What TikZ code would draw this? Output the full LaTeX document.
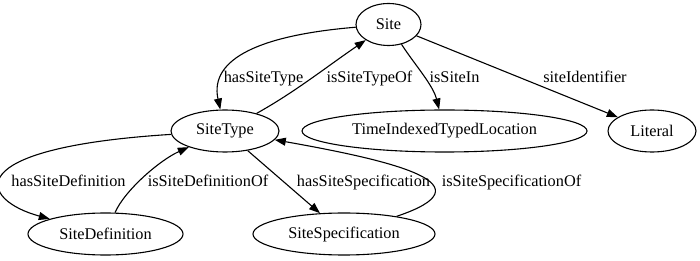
\documentclass[tikz,border=0pt]{standalone}
\usepackage{fontspec}
\setmainfont{Liberation Serif}
\usetikzlibrary{positioning, arrows.meta, shapes.geometric}

\begin{document}
\begin{tikzpicture}[
		x=1pt, y=-1pt,
		>={Triangle[length=11pt, width=8pt]},
		% Class nodes (ellipses, fixed height)
		classnode/.style={
				ellipse, draw=black, line width=1.1pt, inner sep=0pt,
				minimum height=42pt, minimum width=#1,
				font=\fontsize{16.3}{19}\selectfont
			},
		% Property edges
		prop/.style={->, line width=1.1pt, draw=black},
		proplabel/.style={anchor=base, inner sep=0pt, font=\fontsize{16.3}{19}\selectfont}
	]

	\useasboundingbox (0,0) rectangle (700,261);

	% ==========================================
	% 1. CLASS NODES
	% ==========================================

	% Top row
	\node[classnode=65pt] (site) at (388.5, 24.5) {Site};

	% Middle row
	\node[classnode=108pt] (sitetype) at (225, 131) {SiteType};
	\node[classnode=285pt] (tilocation) at (444.5, 131) {TimeIndexedTypedLocation};
	\node[classnode=88pt] (literal) at (652, 131) {Literal};

	% Bottom row
	\node[classnode=155pt] (sitedef) at (105.5, 234) {SiteDefinition};
	\node[classnode=182pt] (sitespec) at (344, 234) {SiteSpecification};


	% ==========================================
	% 2. PROPERTIES OF SITE
	% ==========================================

	\draw[prop] (site) .. controls (262,35) and (209,58) .. (sitetype);
	\draw[prop] (sitetype) .. controls (295,92) and (325,68) .. (site);
	\draw[prop] (site) .. controls (415,65) and (433,85) .. (tilocation);
	\draw[prop] (site) -- (literal);

	\node[proplabel] (lhassitetype) at (263.5, 83) {hasSiteType};
	\node[proplabel] (lissitetypeof) at (369.5, 83) {isSiteTypeOf};
	\node[proplabel] (lissitein) at (454.5, 83) {isSiteIn};
	\node[proplabel] (lsiteidentifier) at (585, 83) {siteIdentifier};


	% ==========================================
	% 3. PROPERTIES OF SITE TYPE
	% ==========================================

	\draw[prop] (sitetype) .. controls (-45,148) and (-20,200) .. (sitedef);
	\draw[prop] (sitedef) .. controls (125,190) and (160,160) .. (sitetype);
	\draw[prop] (sitetype) -- (sitespec);
	\draw[prop] (sitespec) .. controls (490,185) and (400,162) .. (sitetype);

	\node[proplabel] (lhassitedef) at (68.5, 187) {hasSiteDefinition};
	\node[proplabel] (lissitedefof) at (208, 187) {isSiteDefinitionOf};
	\node[proplabel] (lhassitespec) at (363.5, 187) {hasSiteSpecification};
	\node[proplabel] (lissitespecof) at (511.5, 187) {isSiteSpecificationOf};

\end{tikzpicture}
\end{document}
